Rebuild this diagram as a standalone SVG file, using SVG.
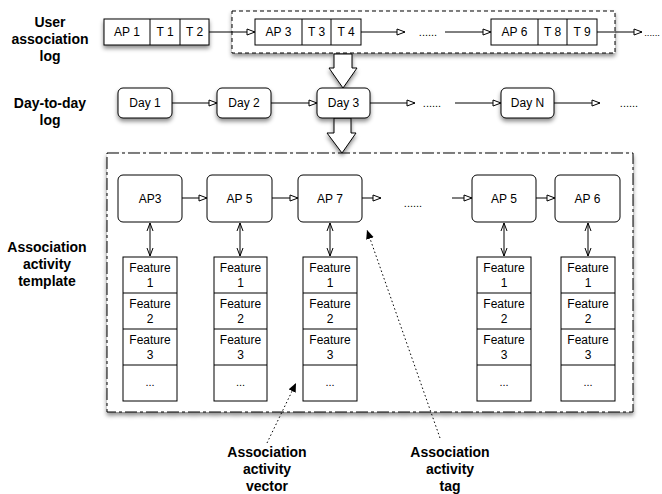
<svg xmlns="http://www.w3.org/2000/svg" width="662" height="494" viewBox="0 0 662 494">
<defs>
<filter id="sh" x="-20%" y="-20%" width="140%" height="160%">
<feDropShadow dx="0" dy="3" stdDeviation="2" flood-color="#000" flood-opacity="0.45"/>
</filter>
<marker id="tri" markerUnits="userSpaceOnUse" markerWidth="12" markerHeight="10" refX="9" refY="4" orient="auto">
<path d="M1,1 L9,4 L1,7 Z" fill="#fff" stroke="#000" stroke-width="1"/>
</marker>
<marker id="vee" markerUnits="userSpaceOnUse" markerWidth="10" markerHeight="10" refX="8" refY="4" orient="auto-start-reverse">
<path d="M0,1 L8,4 L0,7" fill="none" stroke="#000" stroke-width="1"/>
</marker>
<marker id="fill" markerUnits="userSpaceOnUse" markerWidth="12" markerHeight="10" refX="9" refY="4" orient="auto">
<path d="M0,0 L9,4 L0,8 Z" fill="#000"/>
</marker>
</defs>
<style>
text{font-family:"Liberation Sans",Arial,sans-serif;fill:#000}
.t{font-size:12px;text-anchor:middle}
.lab{font-size:14px;font-weight:bold;text-anchor:middle}
.box{fill:#fff;stroke:#000;stroke-width:1}
.c{stroke:#000;stroke-width:1;fill:none}
.dots{font-size:11px;text-anchor:middle}
</style>

<!-- Labels -->
<g id="label-user">
<text class="lab" x="50" y="27">User</text>
<text class="lab" x="50" y="44">association</text>
<text class="lab" x="50" y="61">log</text>
</g>
<g id="label-day">
<text class="lab" x="50" y="108">Day-to-day</text>
<text class="lab" x="50" y="125">log</text>
</g>
<g id="label-template">
<text class="lab" x="47" y="252">Association</text>
<text class="lab" x="47" y="269">activity</text>
<text class="lab" x="47" y="286">template</text>
</g>
<g id="label-vector">
<text class="lab" x="267" y="457">Association</text>
<text class="lab" x="267" y="474">activity</text>
<text class="lab" x="267" y="491">vector</text>
</g>
<g id="label-tag">
<text class="lab" x="450" y="457">Association</text>
<text class="lab" x="450" y="474">activity</text>
<text class="lab" x="450" y="491">tag</text>
</g>

<!-- Containers -->
<g id="container-log">
<rect x="232" y="11" width="383" height="42" fill="#fff" stroke="#000" stroke-width="1" stroke-dasharray="4,3" filter="url(#sh)"/>
</g>
<g id="container-template">
<rect x="107" y="153" width="526" height="259" fill="#fff" stroke="#000" stroke-width="1" stroke-dasharray="12,3,3,3" filter="url(#sh)"/>
</g>

<!-- Block arrows -->
<g id="block-arrow-1">
<polygon points="334,54 352,54 352,68 357,68 343,88 329,68 334,68" fill="#fff" stroke="#000" stroke-width="1" filter="url(#sh)"/>
</g>
<g id="block-arrow-2">
<polygon points="334,118 351,118 351,133 356,133 342,153 327,133 334,133" fill="#fff" stroke="#000" stroke-width="1" filter="url(#sh)"/>
</g>

<!-- Record boxes row 1 -->
<g id="rec1">
<rect class="box" x="104" y="19" width="105" height="26" filter="url(#sh)"/>
<line class="c" x1="150" y1="19" x2="150" y2="45"/>
<line class="c" x1="180" y1="19" x2="180" y2="45"/>
<text class="t" x="127" y="36">AP 1</text>
<text class="t" x="165" y="36">T 1</text>
<text class="t" x="194.5" y="36">T 2</text>
</g>
<g id="rec2">
<rect class="box" x="255" y="19" width="106" height="26"/>
<line class="c" x1="302" y1="19" x2="302" y2="45"/>
<line class="c" x1="331" y1="19" x2="331" y2="45"/>
<text class="t" x="278.5" y="36">AP 3</text>
<text class="t" x="316.5" y="36">T 3</text>
<text class="t" x="346" y="36">T 4</text>
</g>
<g id="rec3">
<rect class="box" x="491" y="19" width="106" height="26"/>
<line class="c" x1="538" y1="19" x2="538" y2="45"/>
<line class="c" x1="567" y1="19" x2="567" y2="45"/>
<text class="t" x="514.5" y="36">AP 6</text>
<text class="t" x="552.5" y="36">T 8</text>
<text class="t" x="582" y="36">T 9</text>
</g>

<!-- Day boxes -->
<g id="day1"><rect class="box" x="118" y="88" width="54" height="30" rx="5" filter="url(#sh)"/><text class="t" x="145" y="107">Day 1</text></g>
<g id="day2"><rect class="box" x="217" y="88" width="54" height="30" rx="5" filter="url(#sh)"/><text class="t" x="244" y="107">Day 2</text></g>
<g id="day3"><rect class="box" x="317" y="88" width="53" height="30" rx="5" filter="url(#sh)"/><text class="t" x="343.5" y="107">Day 3</text></g>
<g id="dayN"><rect class="box" x="501" y="88" width="53" height="30" rx="5" filter="url(#sh)"/><text class="t" x="527.5" y="107">Day N</text></g>

<!-- AP nodes -->
<g id="ap3"><rect class="box" x="118" y="175" width="64" height="47" rx="5"/><text class="t" x="150" y="203">AP3</text></g>
<g id="ap5a"><rect class="box" x="207" y="175" width="65" height="47" rx="5"/><text class="t" x="239.5" y="203">AP 5</text></g>
<g id="ap7"><rect class="box" x="298" y="175" width="64" height="47" rx="5"/><text class="t" x="330" y="203">AP 7</text></g>
<g id="ap5b"><rect class="box" x="472" y="175" width="64" height="47" rx="5"/><text class="t" x="504" y="203">AP 5</text></g>
<g id="ap6"><rect class="box" x="555" y="175" width="65" height="47" rx="5"/><text class="t" x="587.5" y="203">AP 6</text></g>

<!-- Feature columns -->
<g id="feat1">
<rect class="box" x="123" y="257" width="54" height="144"/>
<line class="c" x1="123" y1="293" x2="177" y2="293"/><line class="c" x1="123" y1="329" x2="177" y2="329"/><line class="c" x1="123" y1="365" x2="177" y2="365"/>
<text class="t" x="150" y="272">Feature</text><text class="t" x="150" y="287">1</text>
<text class="t" x="150" y="308">Feature</text><text class="t" x="150" y="323">2</text>
<text class="t" x="150" y="344">Feature</text><text class="t" x="150" y="359">3</text>
<text class="dots" x="150" y="386">...</text>
</g>
<g id="feat2">
<rect class="box" x="214" y="257" width="53" height="144"/>
<line class="c" x1="214" y1="293" x2="267" y2="293"/><line class="c" x1="214" y1="329" x2="267" y2="329"/><line class="c" x1="214" y1="365" x2="267" y2="365"/>
<text class="t" x="240.5" y="272">Feature</text><text class="t" x="240.5" y="287">1</text>
<text class="t" x="240.5" y="308">Feature</text><text class="t" x="240.5" y="323">2</text>
<text class="t" x="240.5" y="344">Feature</text><text class="t" x="240.5" y="359">3</text>
<text class="dots" x="240.5" y="386">...</text>
</g>
<g id="feat3">
<rect class="box" x="303" y="257" width="54" height="144"/>
<line class="c" x1="303" y1="293" x2="357" y2="293"/><line class="c" x1="303" y1="329" x2="357" y2="329"/><line class="c" x1="303" y1="365" x2="357" y2="365"/>
<text class="t" x="330" y="272">Feature</text><text class="t" x="330" y="287">1</text>
<text class="t" x="330" y="308">Feature</text><text class="t" x="330" y="323">2</text>
<text class="t" x="330" y="344">Feature</text><text class="t" x="330" y="359">3</text>
<text class="dots" x="330" y="386">...</text>
</g>
<g id="feat4">
<rect class="box" x="477" y="257" width="54" height="144"/>
<line class="c" x1="477" y1="293" x2="531" y2="293"/><line class="c" x1="477" y1="329" x2="531" y2="329"/><line class="c" x1="477" y1="365" x2="531" y2="365"/>
<text class="t" x="504" y="272">Feature</text><text class="t" x="504" y="287">1</text>
<text class="t" x="504" y="308">Feature</text><text class="t" x="504" y="323">2</text>
<text class="t" x="504" y="344">Feature</text><text class="t" x="504" y="359">3</text>
<text class="dots" x="504" y="386">...</text>
</g>
<g id="feat5">
<rect class="box" x="561" y="257" width="54" height="144"/>
<line class="c" x1="561" y1="293" x2="615" y2="293"/><line class="c" x1="561" y1="329" x2="615" y2="329"/><line class="c" x1="561" y1="365" x2="615" y2="365"/>
<text class="t" x="588" y="272">Feature</text><text class="t" x="588" y="287">1</text>
<text class="t" x="588" y="308">Feature</text><text class="t" x="588" y="323">2</text>
<text class="t" x="588" y="344">Feature</text><text class="t" x="588" y="359">3</text>
<text class="dots" x="588" y="386">...</text>
</g>

<!-- Ellipses -->
<g id="ellipses">
<text class="dots" x="428" y="36">......</text>
<text x="660" y="36" style="font-size:9.5px;text-anchor:end">......</text>
<text class="dots" x="432" y="107">......</text>
<text class="dots" x="629" y="107">......</text>
<text class="dots" x="413" y="207">......</text>
</g>

<!-- Connectors -->
<g id="connectors">
<line class="c" x1="209" y1="32" x2="255" y2="32" marker-end="url(#tri)"/>
<line class="c" x1="361" y1="32" x2="405" y2="32" marker-end="url(#tri)"/>
<line class="c" x1="445" y1="32" x2="491" y2="32" marker-end="url(#tri)"/>
<line class="c" x1="597" y1="32" x2="642" y2="32" marker-end="url(#tri)"/>
<line class="c" x1="172" y1="103" x2="217" y2="103" marker-end="url(#tri)"/>
<line class="c" x1="271" y1="103" x2="317" y2="103" marker-end="url(#tri)"/>
<line class="c" x1="370" y1="103" x2="415" y2="103" marker-end="url(#tri)"/>
<line class="c" x1="455" y1="103" x2="501" y2="103" marker-end="url(#tri)"/>
<line class="c" x1="554" y1="103" x2="600" y2="103" marker-end="url(#tri)"/>
<line class="c" x1="182" y1="198" x2="207" y2="198" marker-end="url(#tri)"/>
<line class="c" x1="272" y1="198" x2="298" y2="198" marker-end="url(#tri)"/>
<line class="c" x1="362" y1="198" x2="381" y2="198" marker-end="url(#tri)"/>
<line class="c" x1="452" y1="198" x2="472" y2="198" marker-end="url(#tri)"/>
<line class="c" x1="536" y1="198" x2="555" y2="198" marker-end="url(#tri)"/>
<line class="c" x1="150" y1="223" x2="150" y2="256" marker-start="url(#vee)" marker-end="url(#vee)"/>
<line class="c" x1="240" y1="223" x2="240" y2="256" marker-start="url(#vee)" marker-end="url(#vee)"/>
<line class="c" x1="330" y1="223" x2="330" y2="256" marker-start="url(#vee)" marker-end="url(#vee)"/>
<line class="c" x1="504" y1="223" x2="504" y2="256" marker-start="url(#vee)" marker-end="url(#vee)"/>
<line class="c" x1="588" y1="223" x2="588" y2="256" marker-start="url(#vee)" marker-end="url(#vee)"/>
<line class="c" x1="267" y1="443" x2="296" y2="383" stroke-dasharray="1.5,2.5" marker-end="url(#fill)"/>
<line class="c" x1="440" y1="438" x2="367" y2="230" stroke-dasharray="1.5,2.5" marker-end="url(#fill)"/>
</g>
</svg>
